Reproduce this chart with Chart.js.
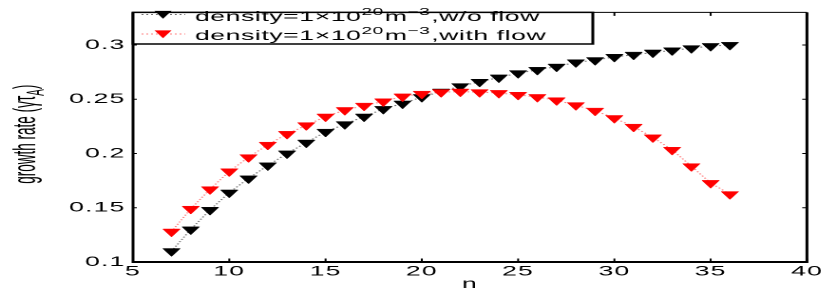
<!DOCTYPE html>
<html>
<head>
<meta charset="utf-8">
<script src="https://cdn.jsdelivr.net/npm/chart.js@4/dist/chart.umd.min.js"></script>
<style>
  html, body { margin: 0; padding: 0; background: #fff; overflow: hidden; }
  /* the source figure is stretched sideways, so the whole chart is drawn narrow and widened */
  #wrap { position: absolute; left: 0; top: 0; width: 437px; height: 291px; transform: scaleX(1.9); transform-origin: 0 0; }
</style>
</head>
<body>
<div id="wrap"><canvas id="ctx"></canvas></div>
<script>
const nValues = [7, 8, 9, 10, 11, 12, 13, 14, 15, 16, 17, 18, 19, 20, 21,
  22, 23, 24, 25, 26, 27, 28, 29, 30, 31, 32, 33, 34, 35, 36];
const rateNoFlow = [0.110, 0.130, 0.148, 0.164, 0.177, 0.189, 0.200, 0.210, 0.220, 0.227,
  0.234, 0.241, 0.246, 0.252, 0.257, 0.262, 0.266, 0.270, 0.274, 0.277,
  0.280, 0.284, 0.286, 0.289, 0.291, 0.293, 0.295, 0.297, 0.299, 0.300];
const rateWithFlow = [0.128, 0.149, 0.167, 0.1835, 0.1965, 0.208, 0.218, 0.226, 0.234, 0.240,
  0.244, 0.248, 0.2525, 0.255, 0.2565, 0.257, 0.2565, 0.2557, 0.254, 0.252,
  0.249, 0.2445, 0.2394, 0.2326, 0.2246, 0.2148, 0.2033, 0.1882, 0.1728, 0.1625];
const xTicks = [5, 10, 15, 20, 25, 30, 35, 40];
const yTicks = [0.1, 0.15, 0.2, 0.25, 0.3];
const seriesNames = ['density=1×10²⁰m⁻³,w/o flow', 'density=1×10²⁰m⁻³,with flow'];
const legendTails = [',w/o flow', ',with flow'];
const seriesColors = ['#000000', '#ff0000'];
const lineColors = ['rgba(0,0,0,0.55)', 'rgba(255,0,0,0.5)'];

const FONT = "'Liberation Sans', Arial, sans-serif";
Chart.defaults.font.family = FONT;
Chart.defaults.color = '#000';

const MARK = 5.2;

function downTriangle(c, x, y, r) {
  c.beginPath();
  c.moveTo(x, y + r);
  c.lineTo(x - r * 0.866, y - r / 2);
  c.lineTo(x + r * 0.866, y - r / 2);
  c.closePath();
  c.fill();
}

const frame = {
  id: 'frame',
  beforeDraw(chart) {
    // matlab-ish loose spacing for every label
    chart.ctx.letterSpacing = '0.6px';
  },
  afterDatasetsDraw(chart) {
    const {ctx, chartArea: a, scales} = chart;
    ctx.save();
    ctx.strokeStyle = '#000';
    ctx.lineWidth = 1;
    ctx.beginPath();
    xTicks.forEach(v => {
      const px = scales.x.getPixelForValue(v);
      ctx.moveTo(px, a.bottom); ctx.lineTo(px, a.bottom - 3.5);
      ctx.moveTo(px, a.top); ctx.lineTo(px, a.top + 3.5);
    });
    yTicks.forEach(v => {
      const py = scales.y.getPixelForValue(v);
      ctx.moveTo(a.left, py); ctx.lineTo(a.left + 2, py);
      ctx.moveTo(a.right, py); ctx.lineTo(a.right - 2.5, py);
    });
    ctx.stroke();

    ctx.lineWidth = 1;
    ctx.beginPath();
    ctx.moveTo(a.left, a.top); ctx.lineTo(a.right, a.top);
    ctx.stroke();
    ctx.lineWidth = 2;
    ctx.beginPath();
    ctx.moveTo(a.left, a.bottom); ctx.lineTo(a.right, a.bottom);
    ctx.stroke();
    ctx.lineWidth = 1.5;
    ctx.beginPath();
    ctx.moveTo(a.left, a.top); ctx.lineTo(a.left, a.bottom + 1);
    ctx.moveTo(a.right, a.top); ctx.lineTo(a.right, a.bottom + 1);
    ctx.stroke();
    ctx.restore();
  },
  afterDraw(chart) {
    const {ctx, chartArea: a} = chart;
    ctx.save();

    // legend box
    const boxRight = 312;
    const boxBottom = 44;
    ctx.fillStyle = '#fff';
    ctx.fillRect(a.left, a.top, boxRight - a.left, boxBottom - a.top);
    ctx.strokeStyle = '#000';
    ctx.lineWidth = 1.5;
    ctx.beginPath();
    ctx.moveTo(a.left, a.top);
    ctx.lineTo(boxRight, a.top);
    ctx.lineTo(boxRight, boxBottom);
    ctx.lineTo(a.left, boxBottom);
    ctx.closePath();
    ctx.stroke();

    const rowMid = [14.5, 34];
    const rowBase = [21, 40];
    for (let i = 0; i < 2; i++) {
      ctx.strokeStyle = lineColors[i];
      ctx.lineWidth = 1;
      ctx.setLineDash([1, 1.5]);
      ctx.beginPath();
      ctx.moveTo(74.5, rowMid[i]);
      ctx.lineTo(97.5, rowMid[i]);
      ctx.stroke();
      ctx.setLineDash([]);
      ctx.fillStyle = seriesColors[i];
      downTriangle(ctx, 85.8, rowMid[i] - 1, MARK);

      ctx.fillStyle = '#000';
      ctx.textBaseline = 'alphabetic';
      ctx.textAlign = 'left';
      ctx.letterSpacing = '0.3px';
      const parts = [['density=1×10', 0], ['20', 1], ['m', 0], ['\u22123', 1], [legendTails[i], 0]];
      let x = 102.6;
      parts.forEach(([txt, sup]) => {
        ctx.font = (sup ? '10px ' : '14px ') + FONT;
        ctx.fillText(txt, x, rowBase[i] - (sup ? 6 : 0));
        x += ctx.measureText(txt).width + (sup ? 0.5 : 0);
      });
    }

    // y axis title with subscript
    ctx.letterSpacing = '0px';
    ctx.translate(18.5, (a.top + a.bottom) / 2 - 3);
    ctx.rotate(-Math.PI / 2);
    ctx.scale(1, 1.25);
    ctx.fillStyle = '#000';
    const main = 'growth rate (\u03b3\u03c4';
    ctx.font = '13.5px ' + FONT;
    const w1 = ctx.measureText(main).width;
    const w3 = ctx.measureText(')').width;
    ctx.font = '10px ' + FONT;
    const w2 = ctx.measureText('A').width;
    let x0 = -(w1 + w2 + w3) / 2;
    ctx.font = '13.5px ' + FONT;
    ctx.fillText(main, x0, 0);
    ctx.font = '10px ' + FONT;
    ctx.fillText('A', x0 + w1, 3.5);
    ctx.font = '13.5px ' + FONT;
    ctx.fillText(')', x0 + w1 + w2, 0);
    ctx.restore();
  }
};

const ctx = document.getElementById('ctx');
const chart = new Chart(ctx, {
  type: 'line',
  data: {
    labels: nValues,
    datasets: [{
      label: seriesNames[0],
      data: nValues.map((n, i) => ({x: n, y: rateNoFlow[i]})),
      borderColor: lineColors[0],
      borderWidth: 1,
      borderDash: [1, 1.5],
      pointStyle: 'triangle',
      rotation: 180,
      pointRadius: MARK,
      pointBackgroundColor: seriesColors[0],
      pointBorderColor: seriesColors[0],
      pointBorderWidth: 0.5,
      order: 1
    }, {
      label: seriesNames[1],
      data: nValues.map((n, i) => ({x: n, y: rateWithFlow[i]})),
      borderColor: lineColors[1],
      borderWidth: 1,
      borderDash: [1, 1.5],
      pointStyle: 'triangle',
      rotation: 180,
      pointRadius: MARK,
      pointBackgroundColor: seriesColors[1],
      pointBorderColor: seriesColors[1],
      pointBorderWidth: 0.5,
      order: 0
    }]
  },
  options: {
    responsive: true,
    maintainAspectRatio: false,
    animation: false,
    devicePixelRatio: 2,
    layout: { padding: { left: 0, right: 12.3, top: 4, bottom: 0 } },
    plugins: { legend: { display: false }, tooltip: { enabled: false } },
    scales: {
      x: {
        type: 'linear',
        min: 5,
        max: 40,
        afterBuildTicks: s => { s.ticks = xTicks.map(v => ({value: v})); },
        afterFit: s => { s.height = 29; },
        grid: { display: false, drawTicks: false },
        border: { display: false },
        ticks: { font: { size: 14 }, padding: 1, maxRotation: 0, callback: v => String(v) },
        title: { display: true, text: 'n', font: { size: 14, lineHeight: 1 }, padding: 0 }
      },
      y: {
        min: 0.1,
        max: 0.33,
        afterBuildTicks: s => { s.ticks = yTicks.map(v => ({value: v})); },
        afterFit: s => { s.width = 70; },
        grid: { display: false, drawTicks: false },
        border: { display: false },
        ticks: { font: { size: 14 }, padding: 4, callback: v => String(v) }
      }
    }
  },
  plugins: [frame]
});
</script>
</body>
</html>
